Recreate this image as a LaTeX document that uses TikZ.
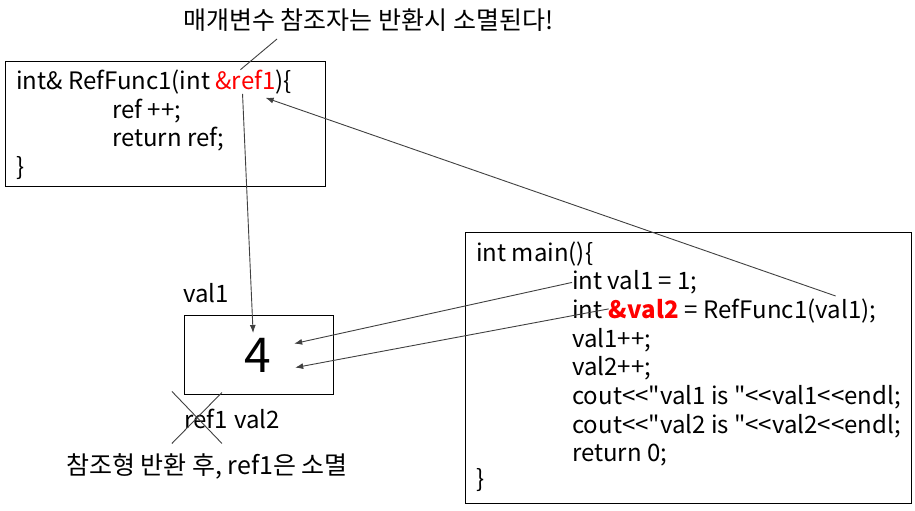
\documentclass[tikz,border=0pt]{standalone}
\usepackage{fontspec}
\setmainfont{Noto Sans CJK KR}[Ligatures=TeXOff]
\usetikzlibrary{arrows.meta,positioning}
\definecolor{LineGray}{HTML}{404040}
\definecolor{RefRed}{HTML}{FF0000}
\begin{document}
\begin{tikzpicture}[x=1pt, y=-1pt, >={Latex[length=8pt,width=6pt]}, font=\fontsize{24}{28}\selectfont]
\tikzset{codebox/.style={draw=black, line width=1.2pt, anchor=north west, inner sep=0pt}, code/.style={anchor=base west, inner sep=0pt}, redcode/.style={code, text=RefRed}, hangul/.style={code, font=\fontsize{25}{28}\selectfont}, link/.style={draw=LineGray, line width=.9pt}, pointer/.style={link, ->}}
\useasboundingbox (0,0) rectangle (915,511);
\node[codebox, minimum width=320pt, minimum height=125pt] (funcbox) at (5,61) {};
\node[codebox, minimum width=446pt, minimum height=271pt] (mainbox) at (465,232) {};
\node[codebox, minimum width=149pt, minimum height=79pt] (valbox) at (184,315) {};
\node[hangul] (note) at (183,30) {매개변수 참조자는 반환시 소멸된다!};
% function
\node[code] (fhead) at (16,89.3) {int\& RefFunc1(int};
\node[redcode] (ref1) at ([xshift=5pt]fhead.base east) {\&ref1};
\node[code] (ftail) at (ref1.base east) {)\{};
\node[code] (fline2) at (112,118) {ref ++;};
\node[code] (fline3) at (112,146.7) {return ref;};
\node[code] (fclose) at (16,175.4) {\}};
% main
\node[code] (mhead) at (476,261) {int main()\{};
\node[code] (mval1) at (572,289.7) {int val1 = 1;};
\node[code] (mint) at (572,318.3) {int};
\node[redcode, font=\fontsize{24}{28}\selectfont\bfseries] (val2) at ([xshift=6pt]mint.base east) {\&val2};
\node[code] (mcall) at ([xshift=6pt]val2.base east) {= RefFunc1(};
\node[code] (callarg) at (mcall.base east) {val1};
\node[code] (mcallend) at (callarg.base east) {);};
\foreach \k/\txt in {4/val1++;, 5/val2++;, 6/cout<<"val1 is "<<val1<<endl;, 7/cout<<"val2 is "<<val2<<endl;, 8/return 0;} \node[code] (mline\k) at (572,{261+28.7*(\k-1)}) {\txt};
\node[code] (mclose) at (476,487) {\}};
% value box
\node[inner sep=0pt, font=\fontsize{48}{54}\selectfont] (four) at (258,355) {4};
\node[code] (valname) at (183,302) {val1};
\node[code] (refname) at (184,428) {ref1};
\node[code] (aliasname) at ([xshift=6pt]refname.base east) {val2};
\node[hangul] (gone) at (66,474) {참조형 반환 후, ref1은 소멸};
\coordinate (in1) at ([xshift=-40pt,yshift=11.5pt]valbox.east);
\coordinate (in2) at ([xshift=-39pt,yshift=-12.5pt]valbox.east);
% connectors
\draw[link] ([xshift=94pt,yshift=-9pt]note.base west) -- ([xshift=25pt]ref1.north west);
\draw[pointer] ([xshift=-3pt,yshift=-4pt]ref1.south) -- ([xshift=-6pt,yshift=-18pt]valbox.north);
\draw[pointer] ([xshift=20pt,yshift=3pt]callarg.north west) -- ([xshift=-10pt,yshift=-8pt]ref1.south east);
\draw[pointer] (mval1.west) -- (in1);
\draw[pointer] (val2.west) -- (in2);
\draw[link] ([shift={(-34,-27)}]refname.center) -- ([shift={(16,25)}]refname.center);
\draw[link] ([shift={(16,-26)}]refname.center) -- ([shift={(-34,25)}]refname.center);
\end{tikzpicture}
\end{document}
